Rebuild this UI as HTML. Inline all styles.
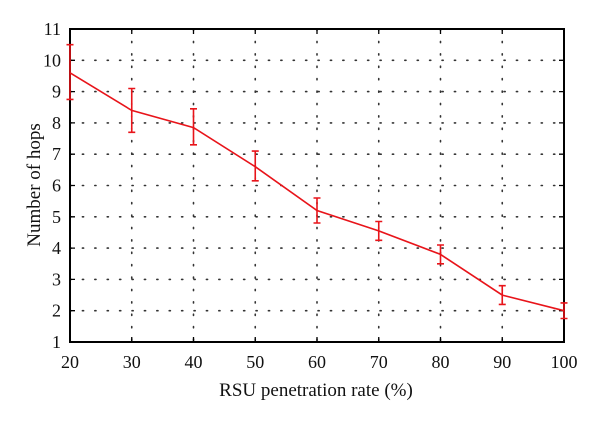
<!DOCTYPE html>
<html><head><meta charset="utf-8"><style>
html,body{margin:0;padding:0;background:#fff;}
svg{display:block;}
text{font-family:"Liberation Serif",serif;fill:#111;}
</style></head><body>
<svg width="600" height="423" viewBox="0 0 600 423" xmlns="http://www.w3.org/2000/svg">
<g stroke="#333" stroke-width="1.6" stroke-dasharray="1.2 11.2" stroke-linecap="round" fill="none">
<line x1="131.75" y1="29" x2="131.75" y2="342"/>
<line x1="193.5" y1="29" x2="193.5" y2="342"/>
<line x1="255.25" y1="29" x2="255.25" y2="342"/>
<line x1="317" y1="29" x2="317" y2="342"/>
<line x1="378.75" y1="29" x2="378.75" y2="342"/>
<line x1="440.5" y1="29" x2="440.5" y2="342"/>
<line x1="502.25" y1="29" x2="502.25" y2="342"/>
<line x1="70" y1="310.7" x2="564" y2="310.7"/>
<line x1="70" y1="279.4" x2="564" y2="279.4"/>
<line x1="70" y1="248.1" x2="564" y2="248.1"/>
<line x1="70" y1="216.8" x2="564" y2="216.8"/>
<line x1="70" y1="185.5" x2="564" y2="185.5"/>
<line x1="70" y1="154.2" x2="564" y2="154.2"/>
<line x1="70" y1="122.9" x2="564" y2="122.9"/>
<line x1="70" y1="91.6" x2="564" y2="91.6"/>
<line x1="70" y1="60.3" x2="564" y2="60.3"/>
</g>
<g stroke="#000" stroke-width="1.3">
<path d="M131.75 342v-5M193.5 342v-5M255.25 342v-5M317 342v-5M378.75 342v-5M440.5 342v-5M502.25 342v-5
M131.75 29v5M193.5 29v5M255.25 29v5M317 29v5M378.75 29v5M440.5 29v5M502.25 29v5
M70 310.7h5M70 279.4h5M70 248.1h5M70 216.8h5M70 185.5h5M70 154.2h5M70 122.9h5M70 91.6h5M70 60.3h5
M564 310.7h-5M564 279.4h-5M564 248.1h-5M564 216.8h-5M564 185.5h-5M564 154.2h-5M564 122.9h-5M564 91.6h-5M564 60.3h-5"/>
</g>
<rect x="70" y="29" width="494" height="313" fill="none" stroke="#000" stroke-width="2"/>
<g stroke="#e8141a" stroke-width="1.6" fill="none">
<polyline points="70,72.8 131.75,110.4 193.5,127.6 255.25,166.7 317,210.5 378.75,230.9 440.5,254.4 502.25,295.1 564,310.7"/>
<path d="M70 44.65V99.4M66.5 44.65h7M66.5 99.4h7
M131.75 88.5V132.3M128.25 88.5h7M128.25 132.3h7
M193.5 108.8V144.8M190 108.8h7M190 144.8h7
M255.25 151.1V180.8M251.75 151.1h7M251.75 180.8h7
M317 198V223M313.5 198h7M313.5 223h7
M378.75 221.5V240.3M375.25 221.5h7M375.25 240.3h7
M440.5 245V263.8M437 245h7M437 263.8h7
M502.25 285.7V304.4M498.75 285.7h7M498.75 304.4h7
M564 302.9V318.5M560.5 302.9h7M560.5 318.5h7"/>
</g>
<g font-size="18" text-anchor="middle">
<text x="70" y="368">20</text><text x="131.75" y="368">30</text><text x="193.5" y="368">40</text>
<text x="255.25" y="368">50</text><text x="317" y="368">60</text><text x="378.75" y="368">70</text>
<text x="440.5" y="368">80</text><text x="502.25" y="368">90</text><text x="564" y="368">100</text>
</g>
<g font-size="18" text-anchor="end">
<text x="61" y="348">1</text><text x="61" y="316.7">2</text><text x="61" y="285.4">3</text>
<text x="61" y="254.1">4</text><text x="61" y="222.8">5</text><text x="61" y="191.5">6</text>
<text x="61" y="160.2">7</text><text x="61" y="128.9">8</text><text x="61" y="97.6">9</text>
<text x="61" y="66.3">10</text><text x="61" y="35">11</text>
</g>
<text x="316" y="396" font-size="19" text-anchor="middle">RSU penetration rate (%)</text>
<text transform="translate(40,185) rotate(-90)" font-size="19" text-anchor="middle">Number of hops</text>
</svg>
</body></html>
